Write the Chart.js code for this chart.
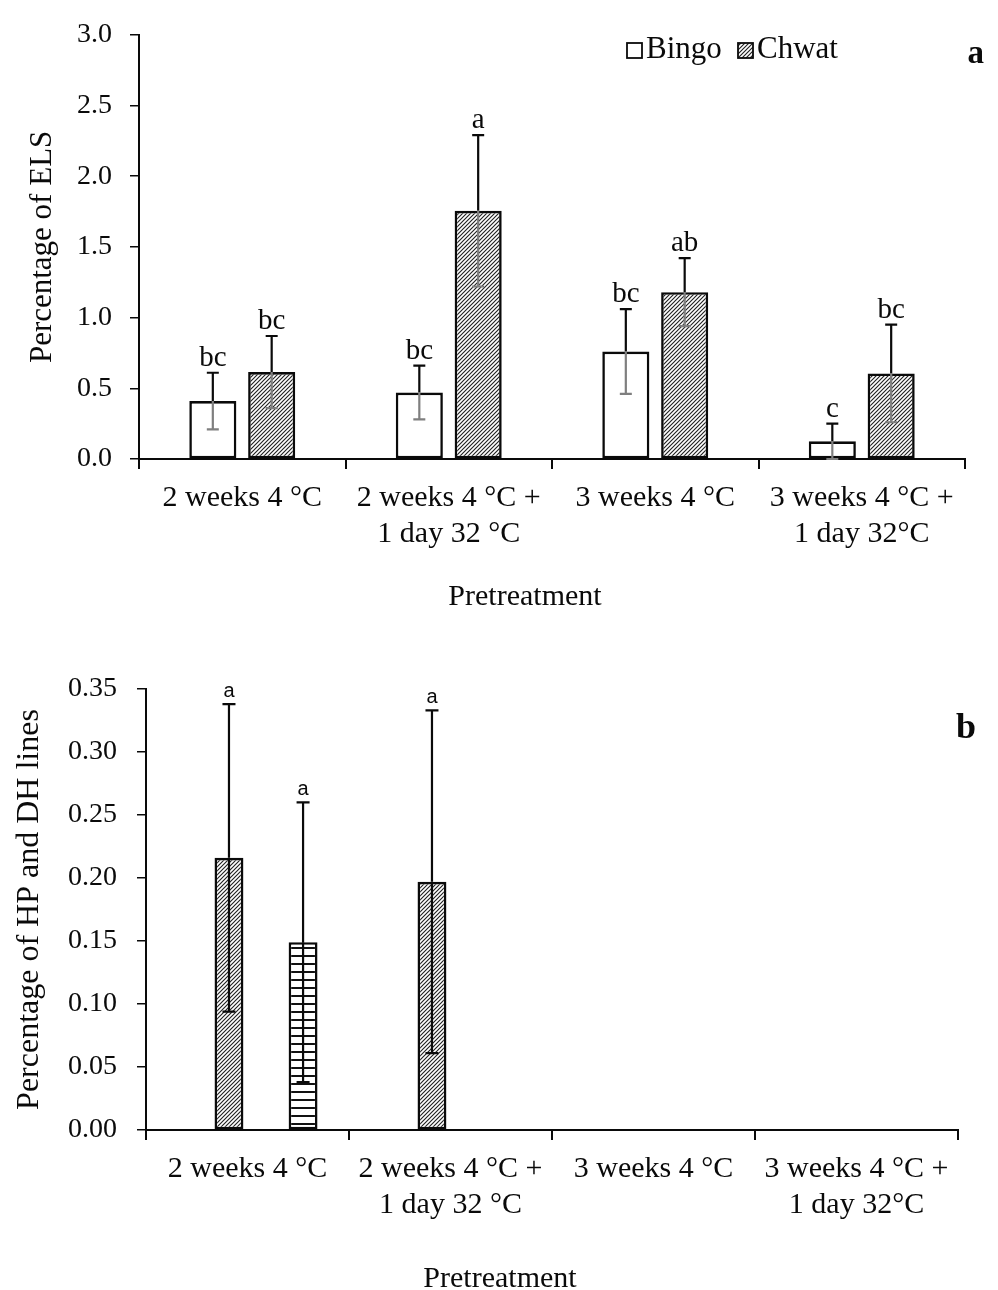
<!DOCTYPE html>
<html><head><meta charset="utf-8">
<script src="https://cdn.jsdelivr.net/npm/chart.js@4.4.1/dist/chart.umd.min.js"></script>
<style>
html,body{margin:0;padding:0;background:#fff;}
#wrap{position:relative;width:998px;height:1290px;overflow:hidden;}
canvas{position:absolute;left:0;}
#ca{top:0;} #cb{top:640px;}
</style></head><body>
<div id="wrap"><canvas id="ca" width="998" height="620"></canvas><canvas id="cb" width="998" height="650"></canvas></div>
<script>
// ---------- data ----------
const categories = [['2 weeks 4 °C'], ['2 weeks 4 °C +', '1 day 32 °C'], ['3 weeks 4 °C'], ['3 weeks 4 °C +', '1 day 32°C']];

// Panel a: percentage of ELS
const bingoELS      = [0.41, 0.47, 0.76, 0.125];
const bingoELSErr   = [0.20, 0.19, 0.30, 0.125];
const chwatELS      = [0.615, 1.755, 1.18, 0.605];
const chwatELSErr   = [0.255, 0.535, 0.24, 0.345];
const bingoLetters  = ['bc', 'bc', 'bc', 'c'];
const chwatLetters  = ['bc', 'a', 'ab', 'bc'];
const yTickLabelsA  = ['0.0', '0.5', '1.0', '1.5', '2.0', '2.5', '3.0'];

// Panel b: percentage of HP and DH lines
const chwatHP       = [0.216, 0.197, 0, 0];
const chwatHPErr    = [0.122, 0.136, 0, 0];
const chwatDH       = [0.149, 0, 0, 0];
const chwatDHErr    = [0.111, 0, 0, 0];
const hpLetters     = ['a', 'a', '', ''];
const dhLetters     = ['a', '', '', ''];
const emptySlot     = [null, null, null, null];
const yTickLabelsB  = ['0.00', '0.05', '0.10', '0.15', '0.20', '0.25', '0.30', '0.35'];

// ---------- helpers ----------
const SERIF = '"Liberation Serif", "Times New Roman", serif';
const INK = '#0a0a0a';

function hatch(ctx) {
  const c = document.createElement('canvas'); c.width = 4; c.height = 4;
  const g = c.getContext('2d');
  g.fillStyle = '#fff'; g.fillRect(0, 0, 4, 4);
  g.strokeStyle = '#222'; g.lineWidth = 1.15;
  g.beginPath();
  g.moveTo(-1, 5); g.lineTo(5, -1);
  g.moveTo(-1, 1); g.lineTo(1, -1);
  g.moveTo(3, 5); g.lineTo(5, 3);
  g.stroke();
  return ctx.createPattern(c, 'repeat');
}
function hlines(ctx) {
  const c = document.createElement('canvas'); c.width = 4; c.height = 8;
  const g = c.getContext('2d');
  g.fillStyle = '#fff'; g.fillRect(0, 0, 4, 8);
  g.fillStyle = '#111'; g.fillRect(0, 3, 4, 2);
  return ctx.createPattern(c, 'repeat');
}

const annot = {
  id: 'annot',
  afterDatasetsDraw(chart) {
    const o = chart.options.plugins.annot;
    const ctx = chart.ctx, ys = chart.scales.y;
    ctx.save();
    chart.data.datasets.forEach((ds, di) => {
      if (!ds.err) return;
      const meta = chart.getDatasetMeta(di);
      meta.data.forEach((bar, i) => {
        const v = ds.data[i], e = ds.err[i];
        if (v == null || e == null || e <= 0) return;
        const x = bar.x;
        const yT = ys.getPixelForValue(v + e);
        const yV = ys.getPixelForValue(v);
        const yB = ys.getPixelForValue(Math.max(v - e, 0));
        const cw = o.capHalf;
        ctx.lineWidth = 2.2; ctx.lineCap = 'butt';
        ctx.strokeStyle = o.upperColor;
        ctx.beginPath(); ctx.moveTo(x, yT); ctx.lineTo(x, yV);
        ctx.moveTo(x - cw, yT); ctx.lineTo(x + cw, yT); ctx.stroke();
        ctx.strokeStyle = o.lowerColor;
        ctx.beginPath(); ctx.moveTo(x, yV); ctx.lineTo(x, yB);
        ctx.moveTo(x - cw, yB); ctx.lineTo(x + cw, yB); ctx.stroke();
        const L = ds.letters && ds.letters[i];
        if (L) {
          ctx.font = o.letterFont; ctx.fillStyle = INK;
          ctx.textAlign = 'center'; ctx.textBaseline = 'alphabetic';
          ctx.fillText(L, x, yT - o.letterGap);
        }
      });
    });
    // legend
    o.legend.forEach(it => {
      const ds = chart.data.datasets[it.ds];
      ctx.fillStyle = ds.backgroundColor;
      ctx.fillRect(it.x, it.y - it.size, it.size, it.size);
      ctx.strokeStyle = INK; ctx.lineWidth = 1.8;
      ctx.strokeRect(it.x, it.y - it.size, it.size, it.size);
      ctx.font = o.legendSize + 'px ' + SERIF; ctx.fillStyle = INK;
      ctx.textAlign = 'left'; ctx.textBaseline = 'alphabetic';
      ctx.fillText(ds.label, it.x + it.size + 4, it.y);
    });
    // x-axis title
    ctx.font = o.xTitle.size + 'px ' + SERIF; ctx.fillStyle = INK;
    ctx.textAlign = 'center'; ctx.textBaseline = 'alphabetic';
    ctx.fillText(o.xTitle.text, o.xTitle.x, o.xTitle.y);
    // panel letter
    ctx.font = 'bold ' + o.panel.size + 'px ' + SERIF;
    ctx.textAlign = 'right';
    ctx.fillText(o.panel.text, o.panel.x, o.panel.y);
    ctx.restore();
  }
};

function xScale(h) {
  return {
    offset: true,
    grid: { display: true, offset: true, drawOnChartArea: false, drawTicks: true, tickLength: 10, color: INK, lineWidth: 2 },
    border: { display: true, color: INK, width: 2 },
    ticks: { font: { family: SERIF, size: 30, lineHeight: 1.2 }, color: INK, padding: 11, maxRotation: 0, minRotation: 0, autoSkip: false },
    afterFit(s) { s.height = h; }
  };
}

// ---------- panel a ----------
const ctxA = document.getElementById('ca').getContext('2d');
new Chart(ctxA, {
  type: 'bar',
  data: {
    labels: categories,
    datasets: [
      { label: 'Bingo', data: bingoELS, err: bingoELSErr, letters: bingoLetters,
        backgroundColor: '#ffffff', borderColor: INK, borderWidth: 2.6, borderSkipped: false,
        barPercentage: 0.8, categoryPercentage: 0.57 },
      { label: 'Chwat', data: chwatELS, err: chwatELSErr, letters: chwatLetters,
        backgroundColor: hatch(ctxA), borderColor: INK, borderWidth: 2.6, borderSkipped: false,
        barPercentage: 0.8, categoryPercentage: 0.57 }
    ]
  },
  options: {
    responsive: false, animation: false, devicePixelRatio: 1,
    layout: { padding: { left: 0, right: 33, top: 23, bottom: 0 } },
    plugins: {
      legend: { display: false }, tooltip: { enabled: false },
      annot: {
        capHalf: 6, upperColor: INK, lowerColor: '#7f7f7f',
        letterFont: '29px ' + SERIF, letterGap: 7,
        legendSize: 31,
        legend: [{ ds: 0, x: 627, y: 58, size: 15 }, { ds: 1, x: 738, y: 58, size: 15 }],
        xTitle: { text: 'Pretreatment', x: 525, y: 605, size: 30 },
        panel: { text: 'a', x: 984, y: 63, size: 33 }
      }
    },
    scales: {
      x: xScale(161),
      y: {
        min: 0, max: 3,
        ticks: { stepSize: 0.5, callback: (v, i) => yTickLabelsA[i], font: { family: SERIF, size: 28 }, color: INK, padding: 18 },
        grid: { drawOnChartArea: false, drawTicks: true, tickLength: 9, color: INK, lineWidth: 1.5 },
        border: { display: true, color: INK, width: 2 },
        title: { display: true, text: 'Percentage of ELS', font: { family: SERIF, size: 31 }, color: INK, padding: { top: 24, bottom: 0 } },
        afterFit(s) { s.width = 139; }
      }
    }
  },
  plugins: [annot]
});

// ---------- panel b ----------
const ctxB = document.getElementById('cb').getContext('2d');
new Chart(ctxB, {
  type: 'bar',
  data: {
    labels: categories,
    datasets: [
      { label: '', data: emptySlot, backgroundColor: '#fff', barPercentage: 0.78, categoryPercentage: 0.73 },
      { label: 'Chwat HP', data: chwatHP, err: chwatHPErr, letters: hpLetters,
        backgroundColor: hatch(ctxB), borderColor: INK, borderWidth: 2.6, borderSkipped: false,
        barPercentage: 0.78, categoryPercentage: 0.73 },
      { label: '', data: emptySlot, backgroundColor: '#fff', barPercentage: 0.78, categoryPercentage: 0.73 },
      { label: 'Chwat DH', data: chwatDH, err: chwatDHErr, letters: dhLetters,
        backgroundColor: hlines(ctxB), borderColor: INK, borderWidth: 2.6, borderSkipped: false,
        barPercentage: 0.78, categoryPercentage: 0.73 }
    ]
  },
  options: {
    responsive: false, animation: false, devicePixelRatio: 1,
    layout: { padding: { left: 0, right: 40, top: 49, bottom: 0 } },
    plugins: {
      legend: { display: false }, tooltip: { enabled: false },
      annot: {
        capHalf: 6.5, upperColor: INK, lowerColor: INK,
        letterFont: '20px "Liberation Sans", Arial, sans-serif', letterGap: 7,
        legendSize: 31,
        legend: [{ ds: 1, x: 525, y: 757, size: 14 }, { ds: 3, x: 694, y: 757, size: 14 }],
        xTitle: { text: 'Pretreatment', x: 500, y: 647, size: 30 },
        panel: { text: 'b', x: 976, y: 98, size: 36 }
      }
    },
    scales: {
      x: xScale(160),
      y: {
        min: 0, max: 0.35,
        ticks: { stepSize: 0.05, callback: (v, i) => yTickLabelsB[i], font: { family: SERIF, size: 28 }, color: INK, padding: 20 },
        grid: { drawOnChartArea: false, drawTicks: true, tickLength: 9, color: INK, lineWidth: 1.5 },
        border: { display: true, color: INK, width: 2 },
        title: { display: true, text: 'Percentage of HP and DH lines', font: { family: SERIF, size: 32 }, color: INK, padding: { top: 10, bottom: 0 } },
        afterFit(s) { s.width = 146; }
      }
    }
  },
  plugins: [annot]
});
</script>
</body></html>
